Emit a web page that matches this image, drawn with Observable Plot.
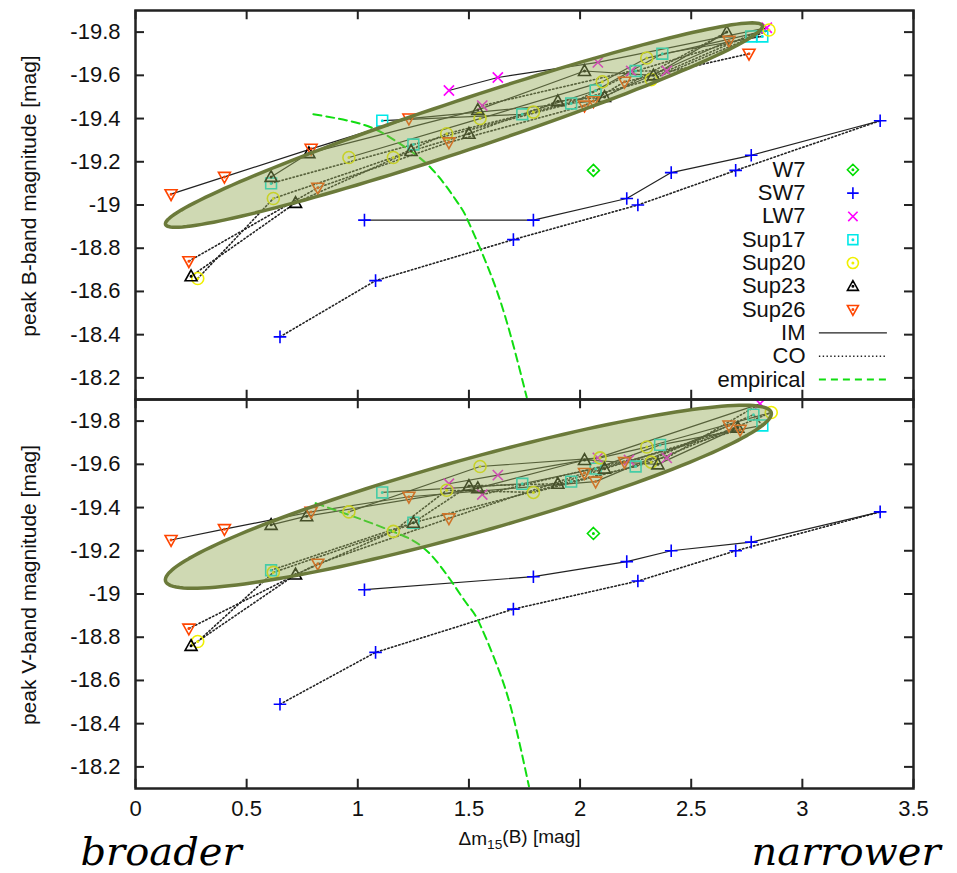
<!DOCTYPE html>
<html>
<head>
<meta charset="utf-8">
<script src="https://cdn.jsdelivr.net/npm/d3@7"></script>
<script src="https://cdn.jsdelivr.net/npm/@observablehq/plot@0.6"></script>
<style>
  html, body { margin: 0; padding: 0; background: #fff; }
  #chart { width: 957px; height: 873px; }
</style>
</head>
<body>
<div id="chart"></div>
<script>
// ---- axes -----------------------------------------------------------------
const xTicks = [0, 0.5, 1, 1.5, 2, 2.5, 3, 3.5];
const yTicks = [-19.8, -19.6, -19.4, -19.2, -19.0, -18.8, -18.6, -18.4, -18.2];
const xDomain = [0, 3.5];
const yDomain = [-19.9, -18.1];
const panels = ["B", "V"];
const panelTitles = ["peak B-band magnitude [mag]", "peak V-band magnitude [mag]"];
const xTitle = "Δm15(B) [mag]";
const models = ["W7", "SW7", "LW7", "Sup17", "Sup20", "Sup23", "Sup26"];

// ---- peak B-band magnitudes: [Δm15(B), M_B] ---------------------------------
const w7_B = [[2.06, -19.16]];
const sw7_B_IM = [[1.03, -18.93], [1.79, -18.93], [2.21, -19.03], [2.41, -19.15], [2.77, -19.23], [3.35, -19.39]];
const sw7_B_CO = [[0.65, -18.39], [1.08, -18.65], [1.70, -18.84], [2.26, -19.00], [2.70, -19.16], [3.35, -19.39]];
const lw7_B_IM = [[1.41, -19.53], [1.63, -19.59], [2.08, -19.66], [2.84, -19.82]];
const lw7_B_CO = [[1.56, -19.46], [2.23, -19.62], [2.39, -19.62], [2.84, -19.82]];
const sup17_B_IM = [[1.11, -19.39], [1.74, -19.42], [2.07, -19.53], [2.37, -19.70], [2.82, -19.78]];
const sup17_B_CO = [[0.61, -19.10], [1.25, -19.28], [1.96, -19.47], [2.25, -19.62], [2.77, -19.78], [2.82, -19.78]];
const sup20_B_IM = [[0.96, -19.22], [1.55, -19.40], [2.10, -19.57], [2.30, -19.68], [2.85, -19.81]];
const sup20_B_CO = [[0.28, -18.66], [0.62, -19.03], [1.16, -19.22], [1.40, -19.33], [1.79, -19.43], [2.32, -19.58], [2.85, -19.81]];
const sup23_B_IM = [[0.61, -19.13], [0.78, -19.24], [1.54, -19.44], [2.02, -19.62], [2.33, -19.60], [2.66, -19.80]];
const sup23_B_CO = [[0.25, -18.67], [0.72, -19.01], [1.24, -19.25], [1.50, -19.33], [1.90, -19.48], [2.11, -19.50], [2.66, -19.80]];
const sup26_B_IM = [[0.16, -19.05], [0.40, -19.13], [0.79, -19.26], [1.23, -19.40], [2.06, -19.48], [2.67, -19.76]];
const sup26_B_CO = [[0.24, -18.74], [0.82, -19.08], [1.41, -19.29], [2.02, -19.46], [2.20, -19.57], [2.76, -19.70]];
const empirical_B = [[0.80, -19.42], [1.03, -19.37], [1.18, -19.29], [1.33, -19.17], [1.45, -19.01], [1.49, -18.94], [1.55, -18.80], [1.63, -18.59], [1.70, -18.35], [1.76, -18.11]];

// ---- peak V-band magnitudes: [Δm15(B), M_V] ---------------------------------
const w7_V = [[2.06, -19.28]];
const sw7_V_IM = [[1.03, -19.02], [1.79, -19.08], [2.21, -19.15], [2.41, -19.20], [2.77, -19.24], [3.35, -19.38]];
const sw7_V_CO = [[0.65, -18.49], [1.08, -18.73], [1.70, -18.93], [2.26, -19.06], [2.70, -19.20], [3.35, -19.38]];
const lw7_V_IM = [[1.41, -19.51], [1.63, -19.55], [2.08, -19.63], [2.81, -19.88]];
const lw7_V_CO = [[1.56, -19.46], [2.22, -19.62], [2.39, -19.63], [2.81, -19.88]];
const sup17_V_IM = [[1.11, -19.47], [1.74, -19.51], [2.07, -19.58], [2.36, -19.69], [2.82, -19.78]];
const sup17_V_CO = [[0.61, -19.11], [1.25, -19.33], [1.96, -19.52], [2.25, -19.59], [2.78, -19.83], [2.82, -19.78]];
const sup20_V_IM = [[0.96, -19.38], [1.55, -19.59], [2.09, -19.63], [2.30, -19.68], [2.86, -19.84]];
const sup20_V_CO = [[0.28, -18.78], [0.62, -19.10], [1.16, -19.29], [1.40, -19.48], [1.79, -19.47], [2.32, -19.61], [2.86, -19.84]];
const sup23_V_IM = [[0.61, -19.32], [0.77, -19.36], [1.54, -19.49], [2.02, -19.62], [2.35, -19.60], [2.71, -19.77]];
const sup23_V_CO = [[0.25, -18.76], [0.72, -19.09], [1.25, -19.33], [1.50, -19.50], [1.90, -19.51], [2.11, -19.58], [2.71, -19.77]];
const sup26_V_IM = [[0.16, -19.25], [0.40, -19.30], [0.79, -19.38], [1.23, -19.45], [2.07, -19.52], [2.67, -19.78]];
const sup26_V_CO = [[0.24, -18.84], [0.82, -19.14], [1.41, -19.35], [2.02, -19.56], [2.20, -19.61], [2.72, -19.76]];
const empirical_V = [[0.81, -19.42], [1.03, -19.34], [1.18, -19.28], [1.33, -19.18], [1.48, -18.97], [1.54, -18.88], [1.63, -18.66], [1.70, -18.43], [1.77, -18.11]];

// ---- highlighted region in each panel: the two tips of its long axis ------
const highlightB = { tipA: [0.135, -18.91], tipB: [2.82, -19.83], halfWidthPx: 25 };
const highlightV = { tipA: [0.135, -19.06], tipB: [2.86, -19.84], halfWidthPx: 37 };

// ---- layout ---------------------------------------------------------------
const W = 957, H = 873;
const mL = 135, mR = 44, mT = 9, mB = 84.5;
const frameW = W - mL - mR;
const panelH = (H - mT - mB) / 2;

const colors = { W7: "#00dd00", SW7: "#0000ff", LW7: "#ff00ff", Sup17: "#00e8e8", Sup20: "#f0f000", Sup23: "#000000", Sup26: "#ff4500" };

// hollow point glyphs (with the small centre dot of the plotting terminal)
const centreDot = (c) => { c.moveTo(0.7, 0); c.arc(0, 0, 0.7, 0, 2 * Math.PI); };
const rad = (size) => Math.sqrt(size / Math.PI);
const symbols = {
  W7: { draw(c, size) { const s = rad(size); c.moveTo(0, -s); c.lineTo(s, 0); c.lineTo(0, s); c.lineTo(-s, 0); c.closePath(); centreDot(c); } },
  SW7: { draw(c, size) { const s = rad(size) * 1.05; c.moveTo(-s, 0); c.lineTo(s, 0); c.moveTo(0, -s); c.lineTo(0, s); } },
  LW7: { draw(c, size) { const s = rad(size) * 0.85; c.moveTo(-s, -s); c.lineTo(s, s); c.moveTo(-s, s); c.lineTo(s, -s); } },
  Sup17: { draw(c, size) { const s = rad(size) * 0.9; c.moveTo(-s, -s); c.lineTo(s, -s); c.lineTo(s, s); c.lineTo(-s, s); c.closePath(); centreDot(c); } },
  Sup20: { draw(c, size) { const s = rad(size); c.moveTo(s, 0); c.arc(0, 0, s, 0, 2 * Math.PI); centreDot(c); } },
  Sup23: { draw(c, size) { const s = rad(size); c.moveTo(0, -s * 1.05); c.lineTo(s, s * 0.75); c.lineTo(-s, s * 0.75); c.closePath(); centreDot(c); } },
  Sup26: { draw(c, size) { const s = rad(size); c.moveTo(0, s * 1.05); c.lineTo(s, -s * 0.75); c.lineTo(-s, -s * 0.75); c.closePath(); centreDot(c); } }
};
const segment = { draw(c) { c.moveTo(-34, 0); c.lineTo(34, 0); } };

// ---- build tables ---------------------------------------------------------
const seriesDefs = [
  ["SW7", "B", "IM", sw7_B_IM], ["SW7", "B", "CO", sw7_B_CO],
  ["LW7", "B", "IM", lw7_B_IM], ["LW7", "B", "CO", lw7_B_CO],
  ["Sup17", "B", "IM", sup17_B_IM], ["Sup17", "B", "CO", sup17_B_CO],
  ["Sup20", "B", "IM", sup20_B_IM], ["Sup20", "B", "CO", sup20_B_CO],
  ["Sup23", "B", "IM", sup23_B_IM], ["Sup23", "B", "CO", sup23_B_CO],
  ["Sup26", "B", "IM", sup26_B_IM], ["Sup26", "B", "CO", sup26_B_CO],
  ["W7", "B", "pt", w7_B],
  ["SW7", "V", "IM", sw7_V_IM], ["SW7", "V", "CO", sw7_V_CO],
  ["LW7", "V", "IM", lw7_V_IM], ["LW7", "V", "CO", lw7_V_CO],
  ["Sup17", "V", "IM", sup17_V_IM], ["Sup17", "V", "CO", sup17_V_CO],
  ["Sup20", "V", "IM", sup20_V_IM], ["Sup20", "V", "CO", sup20_V_CO],
  ["Sup23", "V", "IM", sup23_V_IM], ["Sup23", "V", "CO", sup23_V_CO],
  ["Sup26", "V", "IM", sup26_V_IM], ["Sup26", "V", "CO", sup26_V_CO],
  ["W7", "V", "pt", w7_V]
];
const rows = seriesDefs.flatMap(([model, panel, kind, pts]) =>
  pts.map(([x, y]) => ({ model, panel, kind, seq: `${model}-${panel}-${kind}`, x, y })));
const imRows = rows.filter(d => d.kind === "IM");
const coRows = rows.filter(d => d.kind === "CO");
const pointsOf = (model) => {
  const seen = new Set();
  return rows.filter(d => d.model === model).filter(d => {
    const k = `${d.panel}|${d.x}|${d.y}`;
    if (seen.has(k)) return false;
    seen.add(k);
    return true;
  });
};
const empiricalRows = [
  ...empirical_B.map(([x, y]) => ({ panel: "B", x, y })),
  ...empirical_V.map(([x, y]) => ({ panel: "V", x, y }))
];

// outline of a highlighted region, built in screen proportions then mapped back to data units
function outline({ tipA, tipB, halfWidthPx }, panel) {
  const kx = frameW / (xDomain[1] - xDomain[0]);
  const ky = panelH / (yDomain[1] - yDomain[0]);
  const toPx = ([x, y]) => [(x - xDomain[0]) * kx, (y - yDomain[0]) * ky];
  const [ax, ay] = toPx(tipA), [bx, by] = toPx(tipB);
  const cx = (ax + bx) / 2, cy = (ay + by) / 2;
  const a = Math.hypot(bx - ax, by - ay) / 2;
  const ux = (bx - ax) / (2 * a), uy = (by - ay) / (2 * a);
  return d3.range(160).map(i => {
    const t = 2 * Math.PI * i / 160;
    const px = cx + a * Math.cos(t) * ux - halfWidthPx * Math.sin(t) * uy;
    const py = cy + a * Math.cos(t) * uy + halfWidthPx * Math.sin(t) * ux;
    return { panel, x: xDomain[0] + px / kx, y: yDomain[0] + py / ky };
  });
}
const regionRows = [...outline(highlightB, "B"), ...outline(highlightV, "V")];

// ---- legend (upper panel) -------------------------------------------------
const legendEntries = [
  ...models.map(m => ({ label: m, symbol: symbols[m], stroke: colors[m], dash: null, width: 1.6 })),
  { label: "IM", symbol: segment, stroke: "#222", dash: null, width: 1.2 },
  { label: "CO", symbol: segment, stroke: "#222", dash: "1.4,2.4", width: 1.6 },
  { label: "empirical", symbol: segment, stroke: "#11dd11", dash: "7,5", width: 2 }
];
const legendMarks = legendEntries.flatMap((e, i) => {
  const dy = 159.3 + 23.3 * i;
  const at = [{ panel: "B" }];
  return [
    Plot.text(at, { fy: "panel", frameAnchor: "top-right", text: () => e.label, textAnchor: "end", lineAnchor: "middle", dx: -108, dy, fontSize: 22, fill: "#111" }),
    Plot.dot(at, { fy: "panel", frameAnchor: "top-right", dx: -60.6, dy, symbol: e.symbol, r: 5.5, fill: "none", stroke: e.stroke, strokeWidth: e.width, strokeDasharray: e.dash })
  ];
});

const fmtY = d => (Math.round(d * 10) / 10).toString();
const fmtX = d => String(d);

const chart = Plot.plot({
  width: W,
  height: H,
  marginLeft: mL,
  marginRight: mR,
  marginTop: mT,
  marginBottom: mB,
  style: { fontFamily: "'Liberation Sans', Arial, Helvetica, sans-serif", fontSize: "22px", background: "#fff", color: "#111" },
  x: { domain: xDomain },
  y: { domain: yDomain, reverse: true },
  fy: { domain: panels, padding: 0, axis: null },
  marks: [
    // model sequences
    Plot.line(imRows, { x: "x", y: "y", z: "seq", fy: "panel", stroke: "#222", strokeWidth: 1.2 }),
    Plot.line(coRows, { x: "x", y: "y", z: "seq", fy: "panel", stroke: "#222", strokeWidth: 1.6, strokeDasharray: "1.4,2.4" }),
    // empirical relation
    Plot.line(empiricalRows, { x: "x", y: "y", fy: "panel", curve: "natural", stroke: "#11dd11", strokeWidth: 2, strokeDasharray: "8,5" }),
    // model points
    ...models.map(m => Plot.dot(pointsOf(m), { x: "x", y: "y", fy: "panel", symbol: symbols[m], r: 6, fill: "none", stroke: colors[m], strokeWidth: 1.6 })),
    // highlighted regions
    Plot.line(regionRows, { x: "x", y: "y", z: "panel", fy: "panel", curve: "linear-closed", fill: "rgb(150,172,90)", fillOpacity: 0.46, stroke: "#6b7a3a", strokeWidth: 3.5 }),
    // inward ticks on all four sides of each panel
    Plot.tickY(yTicks, { y: d => d, insetRight: frameW - 9, stroke: "#222", strokeWidth: 2 }),
    Plot.tickY(yTicks, { y: d => d, insetLeft: frameW - 9, stroke: "#222", strokeWidth: 2 }),
    Plot.tickX(xTicks, { x: d => d, insetBottom: panelH - 10, stroke: "#222", strokeWidth: 2 }),
    Plot.tickX(xTicks, { x: d => d, insetTop: panelH - 10, stroke: "#222", strokeWidth: 2 }),
    Plot.frame({ stroke: "#222", strokeWidth: 2.5 }),
    Plot.axisY({ ticks: yTicks, tickSize: 0, tickPadding: 15, tickFormat: fmtY, label: null, fontSize: 22 }),
    Plot.axisX({ ticks: xTicks, tickSize: 0, tickPadding: 12, tickFormat: fmtX, label: null, fontSize: 22 }),
    // axis titles
    Plot.text(panels.map((p, i) => ({ panel: p, t: panelTitles[i] })), { fy: "panel", text: "t", frameAnchor: "left", textAnchor: "middle", lineAnchor: "middle", rotate: -90, dx: -106, dy: -9, fontSize: 21, fill: "#111" }),
    Plot.text([{ panel: "V" }], { fy: "panel", text: () => xTitle, frameAnchor: "bottom", textAnchor: "middle", lineAnchor: "middle", dx: -5, dy: 50, fontSize: 19, fill: "#111" }),
    Plot.text([{ panel: "V" }], { fy: "panel", text: () => "broader", frameAnchor: "bottom-left", textAnchor: "start", lineAnchor: "middle", dx: -55, dy: 63.5, fontFamily: "'DejaVu Serif', serif", fontStyle: "italic", fontSize: 40, fill: "#000" }),
    Plot.text([{ panel: "V" }], { fy: "panel", text: () => "narrower", frameAnchor: "bottom-right", textAnchor: "end", lineAnchor: "middle", dx: 27, dy: 63.5, fontFamily: "'DejaVu Serif', serif", fontStyle: "italic", fontSize: 40, fill: "#000" }),
    ...legendMarks
  ]
});

// subscript in the x title
d3.select(chart).selectAll("text").filter(function () { return this.textContent === xTitle; }).each(function () {
  const t = d3.select(this);
  t.text(null);
  t.append("tspan").text("Δm");
  t.append("tspan").attr("dy", "0.3em").attr("font-size", "0.72em").text("15");
  t.append("tspan").attr("dy", "-0.3em").text("(B) [mag]");
});

document.getElementById("chart").appendChild(chart);
</script>
</body>
</html>
